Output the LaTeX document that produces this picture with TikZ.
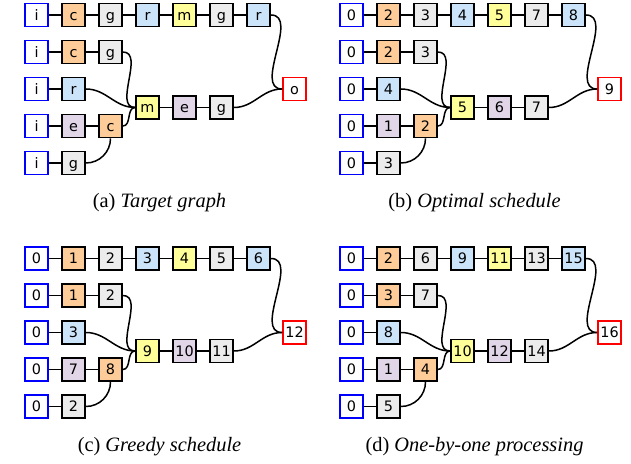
\documentclass[tikz,border=0pt]{standalone}
\usepackage{fontspec}
\setmainfont{Liberation Serif}
\newfontfamily\boxfont{DejaVu Sans}
\usepackage{tikz}

\definecolor{corange}{RGB}{253,204,153}
\definecolor{cgrey}{RGB}{236,236,236}
\definecolor{cblue}{RGB}{204,228,250}
\definecolor{cyellow}{RGB}{255,255,153}
\definecolor{cpurple}{RGB}{225,214,232}

\tikzset{
	box/.style={draw, line width=0.9pt, minimum size=11.5pt, inner sep=0pt,
		text height=5.3pt, text depth=0pt, font=\boxfont\fontsize{7.2}{8}\selectfont},
	inbox/.style={box, draw=blue},
	outbox/.style={box, draw=red},
	cbox/.style={box, fill=corange},
	gbox/.style={box, fill=cgrey},
	rbox/.style={box, fill=cblue},
	mbox/.style={box, fill=cyellow},
	ebox/.style={box, fill=cpurple},
	captext/.style={font=\fontsize{10.2}{12}\selectfont},
	link/.style={line width=0.75pt}
}

\begin{document}
\begin{tikzpicture}[x=0.5pt, y=-0.5pt]
	\useasboundingbox (0,0) rectangle (631,464);
	
	% (a) target graph
	\begin{scope}
	\node[inbox] (a1) at (36.5,15) {i};
	\node[cbox] (a2) at (73.5,15) {c};
	\node[gbox] (a3) at (110.5,15) {g};
	\node[rbox] (a4) at (147.5,15) {r};
	\node[mbox] (a5) at (184.5,15) {m};
	\node[gbox] (a6) at (221.5,15) {g};
	\node[rbox] (a7) at (258.5,15) {r};
	\node[inbox] (a8) at (36.5,52) {i};
	\node[cbox] (a9) at (73.5,52) {c};
	\node[gbox] (a10) at (110.5,52) {g};
	\node[inbox] (a11) at (36.5,89) {i};
	\node[rbox] (a12) at (73.5,89) {r};
	\node[inbox] (a13) at (36.5,126) {i};
	\node[ebox] (a14) at (73.5,126) {e};
	\node[cbox] (a15) at (110.5,126) {c};
	\node[inbox] (a16) at (36.5,163) {i};
	\node[gbox] (a17) at (73.5,163) {g};
	\node[mbox] (a18) at (147.5,107.5) {m};
	\node[ebox] (a19) at (184.5,107.5) {e};
	\node[gbox] (a20) at (221.5,107.5) {g};
	\node[outbox] (a21) at (294.5,89) {o};
	\node[captext] (ac) at (159.5,203) {(a) \textit{Target graph}};
	
	\draw[link] (a1) -- (a2) -- (a3) -- (a4) -- (a5) -- (a6) -- (a7);
	\draw[link] (a8) -- (a9) -- (a10);
	\draw[link] (a11) -- (a12);
	\draw[link] (a13) -- (a14) -- (a15);
	\draw[link] (a16) -- (a17);
	\draw[link] (a18) -- (a19) -- (a20);
	\draw[link] (a10) to[out=0,in=180] (a18);
	\draw[link] (a12) to[out=0,in=180] (a18);
	\draw[link] (a15) to[out=0,in=180] (a18);
	\draw[link] (a17) to[out=0,in=-90] (a15);
	\draw[link] (a7) to[out=0,in=180] (a21);
	\draw[link] (a20) to[out=0,in=180] (a21);
	\end{scope}
	
	% (b) optimal schedule
	\begin{scope}[shift={(315,0)}]
	\node[inbox] (b1) at (36.5,15) {0};
	\node[cbox] (b2) at (73.5,15) {2};
	\node[gbox] (b3) at (110.5,15) {3};
	\node[rbox] (b4) at (147.5,15) {4};
	\node[mbox] (b5) at (184.5,15) {5};
	\node[gbox] (b6) at (221.5,15) {7};
	\node[rbox] (b7) at (258.5,15) {8};
	\node[inbox] (b8) at (36.5,52) {0};
	\node[cbox] (b9) at (73.5,52) {2};
	\node[gbox] (b10) at (110.5,52) {3};
	\node[inbox] (b11) at (36.5,89) {0};
	\node[rbox] (b12) at (73.5,89) {4};
	\node[inbox] (b13) at (36.5,126) {0};
	\node[ebox] (b14) at (73.5,126) {1};
	\node[cbox] (b15) at (110.5,126) {2};
	\node[inbox] (b16) at (36.5,163) {0};
	\node[gbox] (b17) at (73.5,163) {3};
	\node[mbox] (b18) at (147.5,107.5) {5};
	\node[ebox] (b19) at (184.5,107.5) {6};
	\node[gbox] (b20) at (221.5,107.5) {7};
	\node[outbox] (b21) at (294.5,89) {9};
	\node[captext] (bc) at (159.5,203) {(b) \textit{Optimal schedule}};
	
	\draw[link] (b1) -- (b2) -- (b3) -- (b4) -- (b5) -- (b6) -- (b7);
	\draw[link] (b8) -- (b9) -- (b10);
	\draw[link] (b11) -- (b12);
	\draw[link] (b13) -- (b14) -- (b15);
	\draw[link] (b16) -- (b17);
	\draw[link] (b18) -- (b19) -- (b20);
	\draw[link] (b10) to[out=0,in=180] (b18);
	\draw[link] (b12) to[out=0,in=180] (b18);
	\draw[link] (b15) to[out=0,in=180] (b18);
	\draw[link] (b17) to[out=0,in=-90] (b15);
	\draw[link] (b7) to[out=0,in=180] (b21);
	\draw[link] (b20) to[out=0,in=180] (b21);
	\end{scope}
	
	% (c) greedy schedule
	\begin{scope}[shift={(0,243.5)}]
	\node[inbox] (c1) at (36.5,15) {0};
	\node[cbox] (c2) at (73.5,15) {1};
	\node[gbox] (c3) at (110.5,15) {2};
	\node[rbox] (c4) at (147.5,15) {3};
	\node[mbox] (c5) at (184.5,15) {4};
	\node[gbox] (c6) at (221.5,15) {5};
	\node[rbox] (c7) at (258.5,15) {6};
	\node[inbox] (c8) at (36.5,52) {0};
	\node[cbox] (c9) at (73.5,52) {1};
	\node[gbox] (c10) at (110.5,52) {2};
	\node[inbox] (c11) at (36.5,89) {0};
	\node[rbox] (c12) at (73.5,89) {3};
	\node[inbox] (c13) at (36.5,126) {0};
	\node[ebox] (c14) at (73.5,126) {7};
	\node[cbox] (c15) at (110.5,126) {8};
	\node[inbox] (c16) at (36.5,163) {0};
	\node[gbox] (c17) at (73.5,163) {2};
	\node[mbox] (c18) at (147.5,107.5) {9};
	\node[ebox] (c19) at (184.5,107.5) {10};
	\node[gbox] (c20) at (221.5,107.5) {11};
	\node[outbox] (c21) at (294.5,89) {12};
	\node[captext] (cc) at (159.5,203) {(c) \textit{Greedy schedule}};
	
	\draw[link] (c1) -- (c2) -- (c3) -- (c4) -- (c5) -- (c6) -- (c7);
	\draw[link] (c8) -- (c9) -- (c10);
	\draw[link] (c11) -- (c12);
	\draw[link] (c13) -- (c14) -- (c15);
	\draw[link] (c16) -- (c17);
	\draw[link] (c18) -- (c19) -- (c20);
	\draw[link] (c10) to[out=0,in=180] (c18);
	\draw[link] (c12) to[out=0,in=180] (c18);
	\draw[link] (c15) to[out=0,in=180] (c18);
	\draw[link] (c17) to[out=0,in=-90] (c15);
	\draw[link] (c7) to[out=0,in=180] (c21);
	\draw[link] (c20) to[out=0,in=180] (c21);
	\end{scope}
	
	% (d) one-by-one processing
	\begin{scope}[shift={(315,243.5)}]
	\node[inbox] (d1) at (36.5,15) {0};
	\node[cbox] (d2) at (73.5,15) {2};
	\node[gbox] (d3) at (110.5,15) {6};
	\node[rbox] (d4) at (147.5,15) {9};
	\node[mbox] (d5) at (184.5,15) {11};
	\node[gbox] (d6) at (221.5,15) {13};
	\node[rbox] (d7) at (258.5,15) {15};
	\node[inbox] (d8) at (36.5,52) {0};
	\node[cbox] (d9) at (73.5,52) {3};
	\node[gbox] (d10) at (110.5,52) {7};
	\node[inbox] (d11) at (36.5,89) {0};
	\node[rbox] (d12) at (73.5,89) {8};
	\node[inbox] (d13) at (36.5,126) {0};
	\node[ebox] (d14) at (73.5,126) {1};
	\node[cbox] (d15) at (110.5,126) {4};
	\node[inbox] (d16) at (36.5,163) {0};
	\node[gbox] (d17) at (73.5,163) {5};
	\node[mbox] (d18) at (147.5,107.5) {10};
	\node[ebox] (d19) at (184.5,107.5) {12};
	\node[gbox] (d20) at (221.5,107.5) {14};
	\node[outbox] (d21) at (294.5,89) {16};
	\node[captext] (dc) at (159.5,203) {(d) \textit{One-by-one processing}};
	
	\draw[link] (d1) -- (d2) -- (d3) -- (d4) -- (d5) -- (d6) -- (d7);
	\draw[link] (d8) -- (d9) -- (d10);
	\draw[link] (d11) -- (d12);
	\draw[link] (d13) -- (d14) -- (d15);
	\draw[link] (d16) -- (d17);
	\draw[link] (d18) -- (d19) -- (d20);
	\draw[link] (d10) to[out=0,in=180] (d18);
	\draw[link] (d12) to[out=0,in=180] (d18);
	\draw[link] (d15) to[out=0,in=180] (d18);
	\draw[link] (d17) to[out=0,in=-90] (d15);
	\draw[link] (d7) to[out=0,in=180] (d21);
	\draw[link] (d20) to[out=0,in=180] (d21);
	\end{scope}
	
\end{tikzpicture}
\end{document}
